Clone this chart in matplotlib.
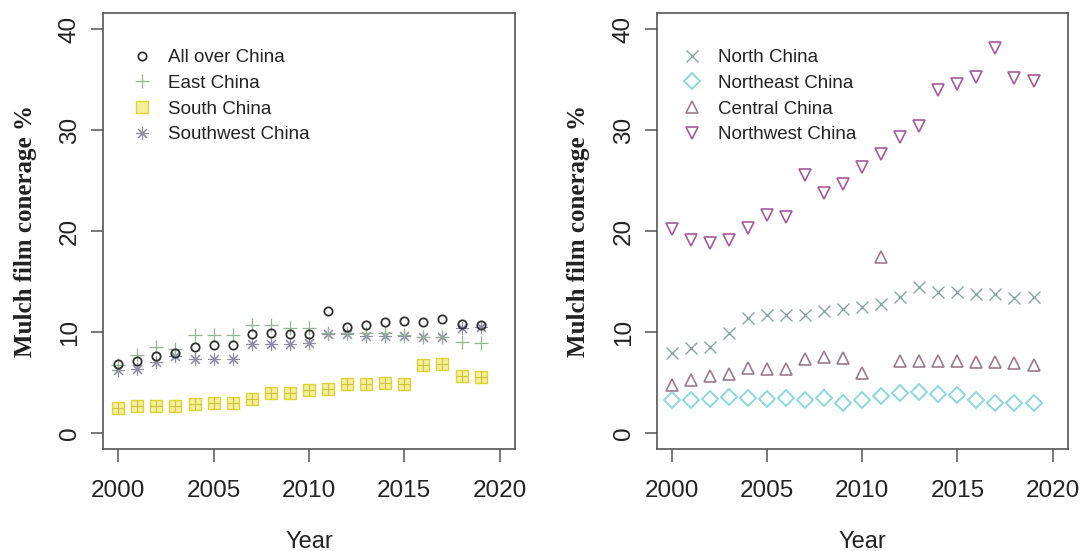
import matplotlib
matplotlib.use("Agg")
import matplotlib.pyplot as plt
import numpy as np

# mulch film coverage (%) by region, 2000-2019
years = np.arange(2000, 2020)

all_china = [6.8, 7.1, 7.6, 7.9, 8.5, 8.7, 8.7, 9.8, 9.9, 9.8,
             9.8, 12.1, 10.5, 10.7, 11.0, 11.1, 11.0, 11.3, 10.8, 10.7]
east_china = [6.7, 7.7, 8.5, 8.3, 9.7, 9.7, 9.7, 10.7, 10.7, 10.4,
              10.4, 9.9, 9.9, 9.9, 9.9, 9.7, 9.5, 9.5, 9.0, 8.9]
south_china = [2.5, 2.7, 2.7, 2.7, 2.9, 3.0, 3.0, 3.4, 4.0, 4.0,
               4.3, 4.4, 4.8, 4.8, 4.9, 4.8, 6.7, 6.8, 5.6, 5.5]
southwest_china = [6.2, 6.3, 7.0, 7.6, 7.3, 7.3, 7.3, 8.8, 8.8, 8.8,
                   8.9, 9.8, 9.8, 9.6, 9.6, 9.6, 9.5, 9.5, 10.4, 10.5]

north_china = [7.9, 8.4, 8.5, 9.9, 11.4, 11.7, 11.7, 11.7, 12.1, 12.3,
               12.5, 12.8, 13.5, 14.5, 14.0, 14.0, 13.8, 13.8, 13.4, 13.5]
northeast_china = [3.3, 3.3, 3.35, 3.6, 3.5, 3.4, 3.5, 3.3, 3.5, 3.0,
                   3.3, 3.7, 4.0, 4.1, 3.9, 3.75, 3.3, 3.0, 3.0, 3.0]
central_china = [4.75, 5.2, 5.6, 5.8, 6.4, 6.3, 6.3, 7.3, 7.5, 7.4,
                 5.9, 17.4, 7.1, 7.1, 7.1, 7.1, 7.0, 7.0, 6.9, 6.7]
northwest_china = [20.2, 19.1, 18.8, 19.1, 20.3, 21.6, 21.4, 25.6, 23.8, 24.7,
                   26.4, 27.6, 29.3, 30.4, 34.0, 34.6, 35.3, 38.2, 35.2, 34.9]

xticks = [2000, 2005, 2010, 2015, 2020]
yticks = [0, 10, 20, 30, 40]

SANS = "Liberation Sans"
FRAME = "#555555"


def style_axes(ax):
    ax.set_xlim(1999.2, 2020.8)
    ax.set_ylim(-1.6, 41.6)
    ax.set_xticks(xticks)
    ax.set_yticks(yticks)
    for sp in ax.spines.values():
        sp.set_color(FRAME)
        sp.set_linewidth(1.2)
    ax.tick_params(axis="both", direction="out", length=9, width=1.1,
                   color=FRAME, labelsize=17.5, labelcolor="#222222")
    ax.tick_params(axis="x", pad=13)
    ax.tick_params(axis="y", pad=7, labelrotation=90)
    for lab in ax.get_yticklabels():
        lab.set_va("center")
    for lab in ax.get_xticklabels() + ax.get_yticklabels():
        lab.set_family(SANS)
    ax.set_xlabel("Year", family=SANS, fontsize=17, color="#222222", labelpad=21)
    ax.set_ylabel("Mulch film conerage %", family="Liberation Serif",
                  fontweight="bold", fontsize=18, color="#222222", labelpad=16)


def pts(ax, y, marker, color, label, ms=7, mew=1.0, mfc="none"):
    ax.plot(years, y, linestyle="none", marker=marker, ms=ms, mew=mew,
            mec=color, mfc=mfc, label=label)


def add_legend(ax, handles, labels, x0):
    ax.legend(handles, labels, loc="upper left", bbox_to_anchor=(x0, 0.935),
              borderaxespad=0, frameon=False, prop={"family": SANS, "size": 13.5},
              handlelength=1.0, handletextpad=0.88, labelspacing=0.46,
              labelcolor="#222222")


fig = plt.figure(figsize=(10.84, 5.51), dpi=100)
ax1 = fig.add_axes([0.095, 0.185, 0.380, 0.791])
ax2 = fig.add_axes([0.606, 0.185, 0.379, 0.791])

# left panel: whole country plus east / south / southwest
pts(ax1, south_china, "s", "#dcd236", "South China", ms=8, mfc="#f3ef9a")
ax1.plot(years, south_china, linestyle="none", marker="+", ms=8, mew=0.8,
         color="#cfc43a")
pts(ax1, southwest_china, (8, 2, 0), "#8c8ca6", "Southwest China", ms=9, mew=0.8)
pts(ax1, east_china, "+", "#94b494", "East China", ms=10, mew=0.9)
pts(ax1, all_china, "o", "#333333", "All over China", ms=6, mew=1.3)

h, l = ax1.get_legend_handles_labels()
order = ["All over China", "East China", "South China", "Southwest China"]
idx = [l.index(o) for o in order]
add_legend(ax1, [h[i] for i in idx], [l[i] for i in idx], 0.054)

# right panel: north / northeast / central / northwest
pts(ax2, north_china, "x", "#8aa7a7", "North China", ms=8, mew=1.0)
pts(ax2, northeast_china, "D", "#86d6de", "Northeast China", ms=8, mew=1.3)
pts(ax2, central_china, "^", "#9b7b8e", "Central China", ms=9, mew=1.2)
pts(ax2, northwest_china, "v", "#a45a9c", "Northwest China", ms=9, mew=1.2)
h, l = ax2.get_legend_handles_labels()
add_legend(ax2, h, l, 0.044)

for ax in (ax1, ax2):
    style_axes(ax)

fig.savefig("out.png", dpi=100, facecolor="white")
